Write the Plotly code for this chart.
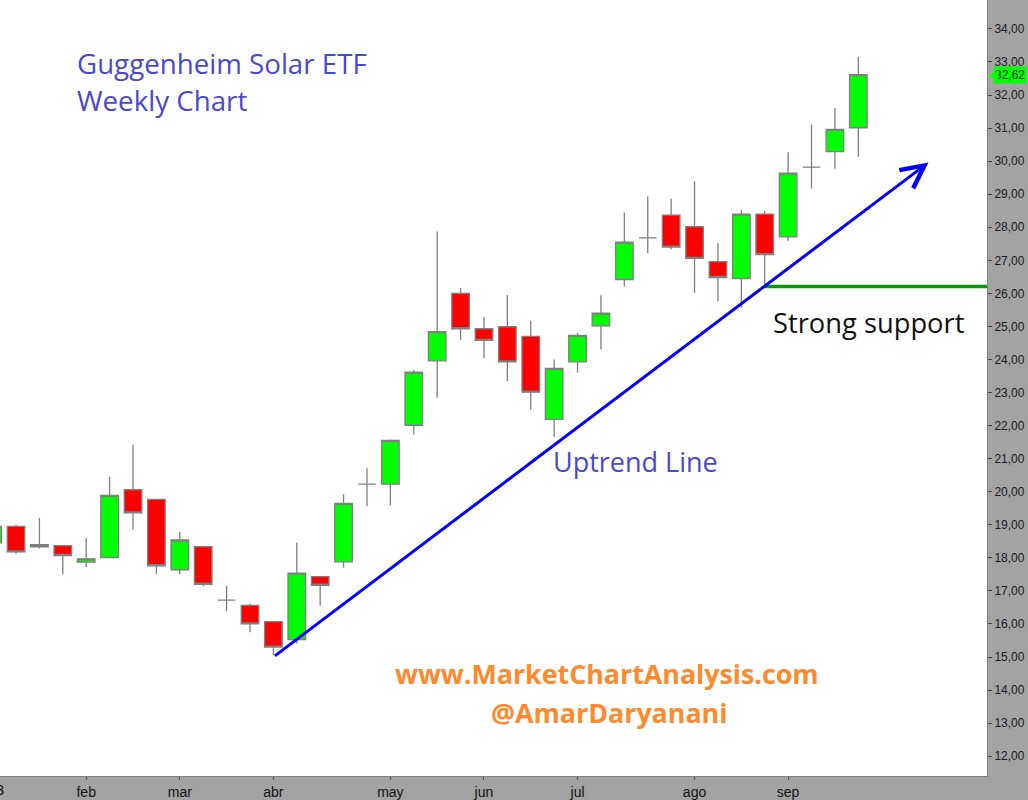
import pandas as pd
import plotly.graph_objects as go

# ---------------- data ----------------
week_start = "2013-01-07"
n_weeks = 38
dates = pd.date_range(week_start, periods=n_weeks, freq="7D")

opens = [18.45, 18.95, 18.33, 18.37, 17.87, 18.01, 20.06, 19.77, 17.64, 18.34,
         16.72, 16.56, 16.07, 15.53, 17.43, 17.88, 20.23, 20.23, 22.01, 23.96,
         26.00, 24.93, 24.99, 24.70, 22.19, 23.93, 25.02, 26.42, 27.68, 28.37,
         28.02, 26.96, 26.45, 28.40, 27.71, 29.82, 30.29, 31.01]
highs = [19.00, 19.00, 19.21, 18.38, 18.61, 20.45, 21.42, 19.78, 18.78, 18.35,
         17.15, 16.60, 16.08, 18.46, 17.44, 19.92, 20.71, 21.58, 23.68, 27.87,
         26.16, 25.29, 25.95, 25.17, 24.00, 24.80, 25.94, 28.44, 28.93, 28.87,
         29.39, 27.52, 28.52, 28.49, 30.27, 31.11, 31.61, 33.15]
lows = [18.40, 18.12, 18.28, 17.50, 17.72, 18.00, 18.85, 17.50, 17.50, 17.14,
        16.39, 15.75, 15.05, 15.40, 16.55, 17.70, 19.56, 19.59, 21.73, 22.84,
        24.59, 24.04, 23.34, 22.48, 21.65, 23.61, 24.30, 26.21, 27.22, 27.33,
        26.02, 25.76, 25.57, 26.21, 27.59, 29.17, 29.77, 30.13]
closes = [18.95, 18.18, 18.40, 18.07, 17.97, 19.89, 19.36, 17.76, 18.54, 17.20,
          16.72, 16.00, 15.30, 17.54, 17.17, 19.65, 20.23, 21.55, 23.62, 24.84,
          24.93, 24.58, 23.93, 23.01, 23.73, 24.73, 25.40, 27.55, 27.68, 27.40,
          27.06, 26.48, 28.40, 27.17, 29.64, 29.82, 30.96, 32.62]

month_tick_dates = ["2013-02-04", "2013-03-04", "2013-04-01", "2013-05-06",
                    "2013-06-03", "2013-07-01", "2013-08-05", "2013-09-02"]
month_tick_labels = ["feb", "mar", "abr", "may", "jun", "jul", "ago", "sep"]

trend_dates = ["2013-04-01", "2013-10-14"]
trend_values = [15.00, 29.96]

support_start = "2013-08-26"
support_value = 26.21

last_price = 32.62

x_range = ["2013-01-09 05:00", "2013-10-31 12:00"]
y_range = [11.4, 34.875]

# ---------------- figure ----------------
UP = "#00ff00"
DOWN = "#ff0000"
EDGE = "#7f7f7f"

fig = go.Figure()
fig.add_trace(go.Candlestick(
    x=dates, open=opens, high=highs, low=lows, close=closes,
    increasing=dict(fillcolor=UP, line=dict(color=EDGE, width=1.3)),
    decreasing=dict(fillcolor=DOWN, line=dict(color=EDGE, width=1.3)),
    whiskerwidth=0, showlegend=False, hoverinfo="skip",
))

# support line
fig.add_shape(type="line", xref="x", yref="y",
              x0=support_start, x1=x_range[1], y0=support_value, y1=support_value,
              line=dict(color="#0a960a", width=3.5))

annotations = [
    # uptrend line with arrow
    dict(x=trend_dates[1], y=trend_values[1], ax=trend_dates[0], ay=trend_values[0],
         xref="x", yref="y", axref="x", ayref="y", text="", showarrow=True,
         arrowhead=5, arrowsize=1.5, arrowwidth=3, arrowcolor="#0000ff",
         standoff=0, startstandoff=0),
    dict(text="Guggenheim Solar ETF", xref="paper", yref="paper", x=0.076, y=0.919,
         xanchor="left", yanchor="middle", showarrow=False,
         font=dict(family="Open Sans", size=27.7, color="#4848d2")),
    dict(text="Weekly Chart", xref="paper", yref="paper", x=0.076, y=0.8715,
         xanchor="left", yanchor="middle", showarrow=False,
         font=dict(family="Open Sans", size=27.7, color="#4848d2")),
    dict(text="Uptrend Line", xref="paper", yref="paper", x=0.6434, y=0.4049,
         xanchor="center", yanchor="middle", showarrow=False,
         font=dict(family="Open Sans", size=27, color="#4848d2")),
    dict(text="Strong support", xref="paper", yref="paper", x=0.781, y=0.5848,
         xanchor="left", yanchor="middle", showarrow=False,
         font=dict(family="Open Sans", size=27.3, color="#111111")),
    dict(text="<b>www.MarketChartAnalysis.com</b>", xref="paper", yref="paper",
         x=0.6145, y=0.1324, xanchor="center", yanchor="middle", showarrow=False,
         font=dict(family="Open Sans", size=26.8, color="#ff8a2e")),
    dict(text="<b>@AmarDaryanani</b>", xref="paper", yref="paper",
         x=0.617, y=0.0823, xanchor="center", yanchor="middle", showarrow=False,
         font=dict(family="Open Sans", size=26.8, color="#ff8a2e")),
    # last price tag
    dict(text="32,62", xref="paper", yref="y", x=1, y=last_price,
         xanchor="left", yanchor="middle", xshift=6, showarrow=False,
         bgcolor=UP, borderpad=1,
         font=dict(family="Liberation Sans, Arial", size=12, color="#1a1a1a")),
    dict(text="◀", xref="paper", yref="y", x=1, y=last_price,
         xanchor="left", yanchor="middle", xshift=-1, showarrow=False,
         font=dict(family="DejaVu Sans", size=13, color=UP)),
    # partially visible year label
    dict(text="2013", xref="paper", yref="paper", x=0.006, y=0,
         xanchor="right", yanchor="top", yshift=-4, showarrow=False,
         font=dict(family="Liberation Sans Narrow, Arial Narrow, Arial", size=14, color="#111111")),
]

fig.update_layout(
    width=1028, height=800,
    margin=dict(l=0, r=41, t=0, b=22),
    paper_bgcolor="#a3a3a3",
    plot_bgcolor="#ffffff",
    separators=", ",
    boxgap=0.25,
    boxgroupgap=0,
    showlegend=False,
    annotations=annotations,
    xaxis=dict(
        type="date", range=x_range, rangeslider=dict(visible=False),
        tickmode="array", tickvals=month_tick_dates, ticktext=month_tick_labels,
        showgrid=False, zeroline=False,
        showline=True, linecolor="#808080", linewidth=1,
        ticks="outside", ticklen=3, tickcolor="#555555",
        tickfont=dict(family="Liberation Sans Narrow, Arial Narrow, Arial", size=14, color="#111111"),
        fixedrange=True,
    ),
    yaxis=dict(
        side="right", range=y_range, dtick=1, tick0=0, tickformat=".2f",
        showgrid=False, zeroline=False,
        showline=True, linecolor="#808080", linewidth=1,
        ticks="outside", ticklen=4, tickcolor="#444444",
        tickfont=dict(family="Liberation Sans, Arial", size=12, color="#1a1a1a"),
        fixedrange=True,
    ),
)

fig.write_html(
    "out.html",
    config={"displayModeBar": False},
    post_script="document.body.style.margin='0';document.body.style.overflow='hidden';",
)
